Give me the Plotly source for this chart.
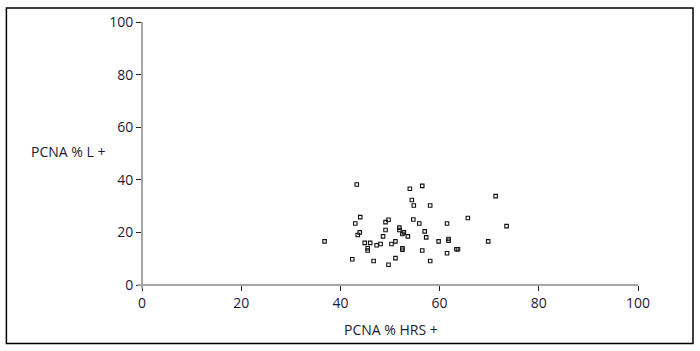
import plotly.graph_objects as go

# PCNA % HRS + (x) and PCNA % L + (y)
hrs = [43.3, 54.0, 54.4, 54.8, 44.0, 43.0, 49.7, 49.1, 54.7, 55.9,
       43.9, 43.5, 49.1, 51.9, 51.9, 52.8, 52.5, 53.6, 48.6, 36.8,
       44.9, 46.0, 48.1, 47.3, 51.1, 50.3, 45.5, 45.5, 52.5, 52.5,
       42.4, 46.7, 51.1, 49.7, 56.5, 58.1, 71.3, 61.5, 65.7, 73.5,
       57.0, 57.3, 59.8, 61.8, 61.8, 69.8, 56.5, 61.5, 63.4, 63.7,
       58.1]
lym = [38.2, 36.6, 32.3, 30.2, 25.8, 23.4, 24.8, 23.9, 24.9, 23.4,
       20.0, 19.0, 20.9, 21.8, 20.9, 20.0, 19.4, 18.5, 18.5, 16.6,
       16.0, 16.0, 15.6, 15.1, 16.6, 15.6, 14.0, 13.1, 14.0, 13.4,
       9.8, 9.1, 10.2, 7.7, 37.7, 30.2, 33.8, 23.4, 25.5, 22.4,
       20.4, 18.1, 16.6, 17.5, 16.8, 16.6, 13.1, 12.1, 13.6, 13.6,
       9.1]

tick_vals = [0, 20, 40, 60, 80, 100]
tick_text = ["0", "20", "40", "60", "80", "100"]
x_title = "PCNA % HRS +"
y_title = "PCNA % L +"

font = dict(family="Open Sans", size=14, color="#1b1b33")

fig = go.Figure()
fig.add_trace(go.Scatter(
    x=hrs, y=lym, mode="markers",
    marker=dict(symbol="square-open", size=3.5, color="#111111",
                line=dict(width=1.1, color="#111111")),
    hoverinfo="x+y", showlegend=False,
))

axis_common = dict(
    range=[0, 100], tickvals=tick_vals, ticktext=tick_text,
    showgrid=False, zeroline=False, showline=False,
    ticks="outside", ticklen=5, tickwidth=1, tickcolor="#222222",
    tickfont=font, fixedrange=True,
)
fig.update_xaxes(**axis_common)
fig.update_yaxes(**axis_common)

grey = "#a6a6a6"
fig.add_shape(type="line", xref="paper", yref="paper",
              x0=-0.009, x1=1.0, y0=0, y1=0,
              line=dict(color=grey, width=2))
fig.add_shape(type="line", xref="paper", yref="paper",
              x0=0, x1=0, y0=-0.013, y1=1.0,
              line=dict(color=grey, width=2))
# outer frame
fig.add_shape(type="rect", xref="paper", yref="paper",
              x0=-0.2734, x1=1.1109, y0=-0.2229, y1=1.0529,
              line=dict(color="#000000", width=1.5), fillcolor="rgba(0,0,0,0)")

fig.add_annotation(text=y_title, xref="paper", yref="paper",
                   x=-0.1498, y=0.506, showarrow=False, font=font,
                   xanchor="center", yanchor="middle")
fig.add_annotation(text=x_title, xref="paper", yref="paper",
                   x=0.5024, y=-0.171, showarrow=False, font=font,
                   xanchor="center", yanchor="middle")

fig.update_layout(
    width=700, height=351,
    margin=dict(l=142, r=62, t=20, b=66),
    paper_bgcolor="white", plot_bgcolor="white",
    font=font,
)

fig.write_html("out.html", config={"displayModeBar": False},
               post_script="document.body.style.margin='0';document.body.style.overflow='hidden';")
